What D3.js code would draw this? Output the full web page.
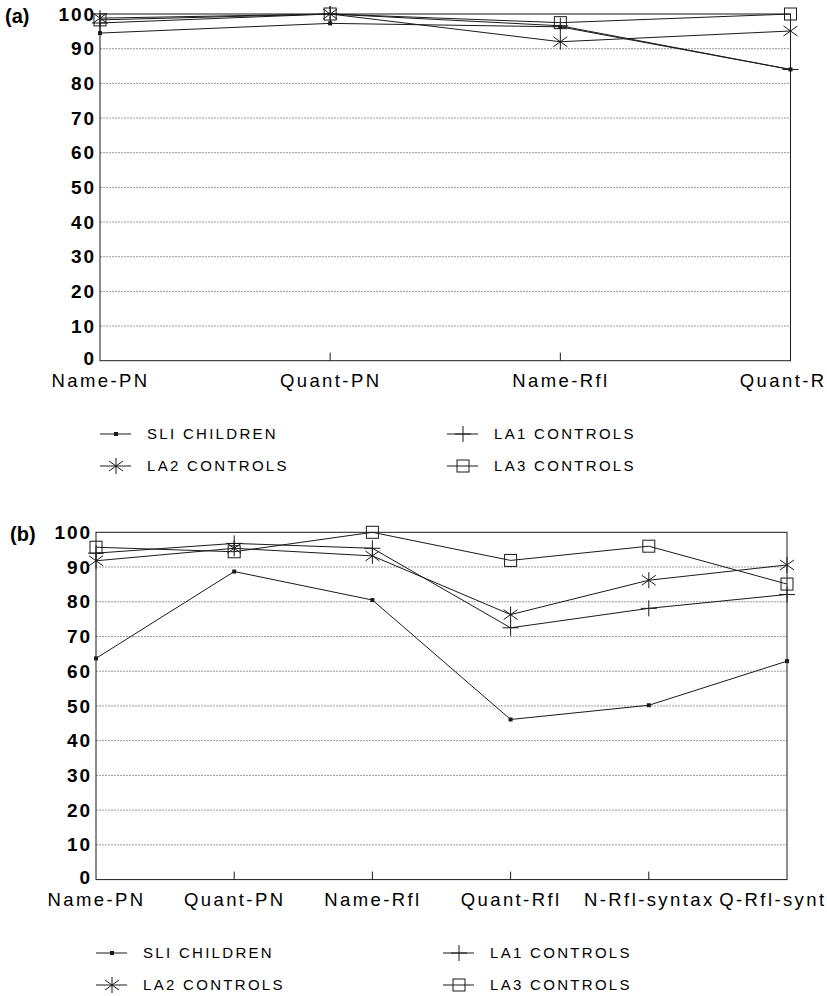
<!DOCTYPE html>
<html>
<head>
<meta charset="utf-8">
<script src="https://cdn.jsdelivr.net/npm/d3@7"></script>
<style>
  body { margin: 0; background: #fff; }
  svg { display: block; overflow: hidden; }
</style>
</head>
<body>
<div id="chart"></div>
<script>
// categories for each panel (last labels are cut in the source, kept as shown)
const catsA = ['Name-PN', 'Quant-PN', 'Name-Rfl', 'Quant-R'];
const catsB = ['Name-PN', 'Quant-PN', 'Name-Rfl', 'Quant-Rfl', 'N-Rfl-syntax', 'Q-Rfl-synt'];
const yTicks = [0, 10, 20, 30, 40, 50, 60, 70, 80, 90, 100];

// panel (a) values, % correct
const sliA = [94.5, 97.3, 96.3, 84.0];
const la1A = [97.4, 100, 96.6, 84.0];
const la2A = [98.8, 100, 92.0, 95.1];
const la3A = [98.3, 100, 97.5, 100];

// panel (b) values
const sliB = [63.7, 88.7, 80.5, 46.1, 50.2, 62.9];
const la1B = [94.0, 96.8, 95.4, 72.5, 78.1, 82.1];
const la2B = [91.8, 95.4, 93.2, 76.3, 86.2, 90.6];
const la3B = [95.7, 94.4, 100, 91.9, 96.0, 85.1];

const seriesNames = ['SLI CHILDREN', 'LA1 CONTROLS', 'LA2 CONTROLS', 'LA3 CONTROLS'];
const seriesMarks = ['dot', 'plus', 'star', 'square'];

const W = 827, H = 996;
const INK = '#1a1a1a';

const svg = d3.select('#chart')
  .append('svg')
  .attr('width', W)
  .attr('height', H);

function markPath(type) {
  if (type === 'plus') return 'M-8,0H8M0,-8V8';
  if (type === 'star') return 'M0,-8V8M-7,-5L7,5M-7,5L7,-5';
  return null;
}

function drawMarker(g, type, x, y) {
  if (type === 'dot') {
    g.append('rect')
      .attr('x', x - 2).attr('y', y - 2)
      .attr('width', 4).attr('height', 4)
      .attr('fill', INK);
  } else if (type === 'square') {
    g.append('rect')
      .attr('x', x - 6).attr('y', y - 6)
      .attr('width', 12).attr('height', 12)
      .attr('fill', 'none')
      .attr('stroke', INK)
      .attr('stroke-width', 1);
  } else {
    g.append('path')
      .attr('d', markPath(type))
      .attr('transform', 'translate(' + x + ',' + y + ')')
      .attr('fill', 'none')
      .attr('stroke', INK)
      .attr('stroke-width', 1);
  }
}

function drawPanel(p) {
  const g = svg.append('g');

  const x = d3.scalePoint()
    .domain(p.cats)
    .range([p.left, p.right]);

  const y = d3.scaleLinear()
    .domain([0, 100])
    .range([p.bottom, p.top]);

  // dotted gridlines
  g.selectAll('.grid')
    .data(yTicks.filter(function (d) { return d > 0 && d < 100; }))
    .enter()
    .append('line')
    .attr('x1', p.left).attr('x2', p.right)
    .attr('y1', function (d) { return y(d); })
    .attr('y2', function (d) { return y(d); })
    .attr('stroke', '#9a9a9a')
    .attr('stroke-width', 1)
    .attr('stroke-dasharray', '2,1');

  // y axis labels
  const yAxis = d3.axisLeft(y)
    .tickValues(yTicks)
    .tickSize(0)
    .tickPadding(4);
  const ya = g.append('g')
    .attr('transform', 'translate(' + p.left + ',0)')
    .call(yAxis);
  ya.select('.domain').remove();
  ya.selectAll('text')
    .attr('font-family', 'Liberation Sans, Arial, sans-serif')
    .attr('font-weight', 'bold')
    .attr('font-size', 19)
    .attr('letter-spacing', 1.9)
    .attr('fill', '#000');
  // lift the zero a little so it clears the category label below
  ya.selectAll('.tick')
    .filter(function (d) { return d === 0; })
    .select('text')
    .attr('dy', '0.2em');

  // x axis: labels under the points, small ticks at inner categories
  const xAxis = d3.axisBottom(x)
    .tickSize(0)
    .tickPadding(13);
  const xa = g.append('g')
    .attr('transform', 'translate(0,' + p.bottom + ')')
    .call(xAxis);
  xa.select('.domain').remove();
  xa.selectAll('text')
    .attr('font-family', 'Liberation Sans Narrow, Arial Narrow, sans-serif')
    .attr('font-size', 18.5)
    .attr('letter-spacing', 2.4)
    .attr('fill', '#000');
  // last label sits against the right edge of the page
  xa.selectAll('.tick')
    .filter(function (d) { return d === p.cats[p.cats.length - 1]; })
    .select('text')
    .attr('text-anchor', 'end')
    .attr('x', W - 1 - x(p.cats[p.cats.length - 1]));

  g.selectAll('.xtick')
    .data(p.cats.slice(1, -1))
    .enter()
    .append('line')
    .attr('x1', function (d) { return x(d); })
    .attr('x2', function (d) { return x(d); })
    .attr('y1', p.bottom)
    .attr('y2', p.bottom - 8)
    .attr('stroke', INK);

  // frame
  g.append('rect')
    .attr('x', p.left).attr('y', p.top)
    .attr('width', p.right - p.left)
    .attr('height', p.bottom - p.top)
    .attr('fill', 'none')
    .attr('stroke', INK)
    .attr('stroke-width', 1);

  const line = d3.line()
    .x(function (d, i) { return x(p.cats[i]); })
    .y(function (d) { return y(d); });

  p.series.forEach(function (vals, si) {
    g.append('path')
      .datum(vals)
      .attr('d', line)
      .attr('fill', 'none')
      .attr('stroke', INK)
      .attr('stroke-width', 1);
    vals.forEach(function (v, i) {
      drawMarker(g, seriesMarks[si], x(p.cats[i]), y(v));
    });
  });

  // panel letter
  g.append('text')
    .attr('x', p.labelX)
    .attr('y', y(100) + 2)
    .attr('dy', '0.35em')
    .attr('font-family', 'Liberation Sans, Arial, sans-serif')
    .attr('font-weight', 'bold')
    .attr('font-size', 20)
    .text(p.label);

  // legend, two columns by two rows
  seriesNames.forEach(function (name, si) {
    const col = si % 2, row = Math.floor(si / 2);
    const lx = p.legX[col], ly = p.legY[row];
    const lg = g.append('g');
    lg.append('line')
      .attr('x1', lx).attr('x2', lx + 31)
      .attr('y1', ly).attr('y2', ly)
      .attr('stroke', INK);
    drawMarker(lg, seriesMarks[si], lx + 16, ly);
    lg.append('text')
      .attr('x', lx + 47)
      .attr('y', ly)
      .attr('dy', '0.36em')
      .attr('font-family', 'Liberation Sans Narrow, Arial Narrow, sans-serif')
      .attr('font-size', 15)
      .attr('letter-spacing', 2.3)
      .attr('fill', '#000')
      .text(name);
  });
}

drawPanel({
  label: '(a)', labelX: 5,
  cats: catsA,
  left: 100, right: 790.5, top: 14, bottom: 360.7,
  series: [sliA, la1A, la2A, la3A],
  legX: [100, 447], legY: [434, 466]
});

drawPanel({
  label: '(b)', labelX: 10,
  cats: catsB,
  left: 96, right: 787, top: 532.3, bottom: 879.6,
  series: [sliB, la1B, la2B, la3B],
  legX: [96, 443], legY: [953, 985]
});
</script>
</body>
</html>
